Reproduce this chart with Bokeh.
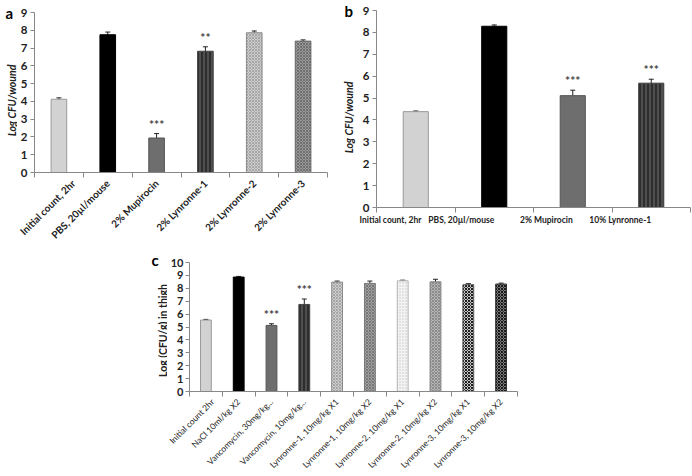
from math import pi
from bokeh.plotting import figure
from bokeh.models import (Range1d, FixedTicker, Whisker, ColumnDataSource,
                          TeeHead, Spacer)
from bokeh.layouts import column, row
from bokeh.embed import file_html
from bokeh.resources import INLINE
from bokeh.core.properties import value

FONT = "Lato"

# ---------------- data ----------------
a_labels = ["Initial count, 2hr", "PBS, 20µl/mouse", "2% Mupirocin",
            "2% Lynronne-1", "2% Lynronne-2", "2% Lynronne-3"]
a_values = [4.12, 7.75, 1.94, 6.82, 7.86, 7.39]
a_errors = [0.08, 0.15, 0.25, 0.25, 0.10, 0.07]
a_stars = ["", "", "***", "**", "", ""]

b_labels = ["Initial count, 2hr", "PBS, 20µl/mouse", "2% Mupirocin", "10% Lynronne-1"]
b_values = [4.38, 8.28, 5.11, 5.68]
b_errors = [0.03, 0.06, 0.25, 0.18]
b_stars = ["", "", "***", "***"]

c_labels = ["Initial count 2hr", "NaCl 10ml/kg X2", "Vancomycin, 30mg/kg...",
            "Vancomycin, 10mg/kg...", "Lynronne-1, 10mg/kg X1", "Lynronne-1, 10mg/kg X2",
            "Lynronne-2, 10mg/kg X1", "Lynronne-2, 10mg/kg X2", "Lynronne-3, 10mg/kg X1",
            "Lynronne-3, 10mg/kg X2"]
c_values = [5.54, 8.87, 5.12, 6.75, 8.48, 8.38, 8.58, 8.50, 8.28, 8.33]
c_errors = [0.05, 0.05, 0.13, 0.42, 0.08, 0.18, 0.05, 0.20, 0.08, 0.07]
c_stars = ["", "", "***", "***", "", "", "", "", "", ""]

# ---------------- bar styles ----------------
S_LIGHT = dict(fill="#d2d2d2", line="#9a9a9a", hatch=" ", hcol="#d2d2d2", hs=4)
S_BLACK = dict(fill="#000000", line="#000000", hatch=" ", hcol="#000000", hs=4)
S_DARK = dict(fill="#6e6e6e", line="#555555", hatch=" ", hcol="#6e6e6e", hs=4)
S_STRIPE = dict(fill="#2e2e2e", line="#444444", hatch="|", hcol="#707070", hs=4)
S_XLIGHT = dict(fill="#cdcdcd", line="#8a8a8a", hatch="x", hcol="#a6a6a6", hs=3)
S_XMID = dict(fill="#9a9a9a", line="#6a6a6a", hatch="x", hcol="#6e6e6e", hs=3)
S_XGRAY = dict(fill="#a0a0a0", line="#777777", hatch="x", hcol="#777777", hs=3)
S_DOTS = dict(fill="#f4f4f4", line="#b0b0b0", hatch=".", hcol="#c4c4c4", hs=3)
S_XAVG = dict(fill="#b4b4b4", line="#808080", hatch="x", hcol="#8c8c8c", hs=3)
S_CHECK = dict(fill="#c8c8c8", line="#555555", hatch="x", hcol="#1e1e1e", hs=3)
S_CHECKD = dict(fill="#7a7a7a", line="#333333", hatch="x", hcol="#1a1a1a", hs=3)

a_styles = [S_LIGHT, S_BLACK, S_DARK, S_STRIPE, S_XLIGHT, S_XMID]
b_styles = [S_LIGHT, S_BLACK, S_DARK, S_STRIPE]
c_styles = [S_LIGHT, S_BLACK, S_DARK, S_STRIPE, S_XLIGHT, S_XGRAY, S_DOTS, S_XAVG,
            S_CHECK, S_CHECKD]


def side(letter, ylabel, ylabel_style, width, height, letter_x, letter_base,
         ylab_x, ylab_center_top):
    """Narrow strip that carries the panel letter and the rotated y-axis title."""
    s = figure(width=width, height=height, output_backend="svg", toolbar_location=None,
               x_range=Range1d(0, width), y_range=Range1d(0, height),
               x_axis_location=None, y_axis_location=None,
               min_border=0, min_border_left=0, min_border_right=0,
               min_border_top=0, min_border_bottom=0)
    s.outline_line_color = None
    s.xgrid.visible = False
    s.ygrid.visible = False
    s.text(x=[letter_x], y=[height - letter_base], text=[letter], text_align="left",
           text_baseline="alphabetic", text_font=value(FONT), text_font_size="15px",
           text_font_style="bold", text_color="#000000")
    s.text(x=[ylab_x], y=[height - ylab_center_top], text=[ylabel], angle=pi / 2,
           text_align="center", text_baseline="middle", text_font=value(FONT),
           text_font_size="10.5px", text_font_style=ylabel_style, text_color="#222222")
    return s


def panel(labels, values, errors, stars, styles, width, height, mb, ymax, bar_w,
          xlab_angle, xlab_size, xlab_style, tick_size, xlab_standoff, ytick_standoff):
    n = len(labels)
    xs = list(range(n))
    src = ColumnDataSource(dict(
        x=xs, top=values, upper=[v + e for v, e in zip(values, errors)],
        lower=[v - e for v, e in zip(values, errors)], stars=stars,
        fill=[s["fill"] for s in styles], line=[s["line"] for s in styles],
        hatch=[s["hatch"] for s in styles], hcol=[s["hcol"] for s in styles],
        hs=[s["hs"] for s in styles]))
    p = figure(width=width, height=height, output_backend="svg",
               toolbar_location=None, x_range=Range1d(-0.5, n - 0.5),
               y_range=Range1d(0, ymax),
               min_border_left=mb[0], min_border_right=mb[1],
               min_border_top=mb[2], min_border_bottom=mb[3])
    p.outline_line_color = None
    p.xgrid.visible = False
    p.ygrid.visible = False

    p.vbar(x="x", top="top", bottom=0, width=bar_w, source=src,
           fill_color="fill", line_color="line", line_width=1,
           hatch_pattern="hatch", hatch_color="hcol", hatch_scale="hs",
           hatch_weight=1)
    w = Whisker(base="x", upper="upper", lower="lower", source=src,
                line_color="#222222", line_width=1,
                upper_head=TeeHead(size=5, line_color="#222222", line_width=1),
                lower_head=TeeHead(size=5, line_color="#222222", line_width=1))
    p.add_layout(w)
    p.text(x="x", y="upper", text="stars", source=src, text_align="center",
           text_baseline="bottom", y_offset=-2, text_font=value(FONT),
           text_font_size="12px", text_font_style="bold", text_color="#444444")

    # x axis: labels at centres, tick marks between categories
    xa = p.xaxis[0]
    xa.ticker = FixedTicker(ticks=xs, minor_ticks=[i - 0.5 for i in range(n + 1)])
    xa.major_label_overrides = {i: lab for i, lab in enumerate(labels)}
    xa.major_tick_out = 0
    xa.major_tick_in = 0
    xa.minor_tick_out = 5
    xa.minor_tick_in = 0
    xa.minor_tick_line_color = "#888888"
    xa.axis_line_color = "#888888"
    xa.major_label_orientation = xlab_angle
    xa.major_label_text_font = FONT
    xa.major_label_text_font_size = xlab_size
    xa.major_label_text_font_style = xlab_style
    xa.major_label_text_color = "#222222"
    xa.major_label_standoff = xlab_standoff

    ya = p.yaxis[0]
    ya.ticker = FixedTicker(ticks=list(range(0, ymax + 1)))
    ya.major_tick_out = 4
    ya.major_tick_in = 0
    ya.minor_tick_line_color = None
    ya.axis_line_color = "#888888"
    ya.major_tick_line_color = "#888888"
    ya.major_label_text_font = FONT
    ya.major_label_text_font_size = tick_size
    ya.major_label_text_font_style = "bold"
    ya.major_label_text_color = "#222222"
    ya.major_label_standoff = ytick_standoff
    return p


ROW1_H = 248
ROW2_H = 228

# panel a: frame page x 31..327, y 12..172
sa = side("a", "Log CFU/wound", "bold italic", 17, ROW1_H, 5, 12, 11, 100)
pa = panel(a_labels, a_values, a_errors, a_stars, a_styles, width=324, height=ROW1_H,
           mb=(14, 14, 12, 76), ymax=9, bar_w=0.32, xlab_angle=pi / 4,
           xlab_size="10px", xlab_style="bold", tick_size="11.5px",
           xlab_standoff=4, ytick_standoff=3)

# panel b: frame page x 373..690, y 10..207
sb = side("b", "Log CFU/wound", "bold italic", 18, ROW1_H, 3, 10, 7, 117)
pb = panel(b_labels, b_values, b_errors, b_stars, b_styles, width=333, height=ROW1_H,
           mb=(14, 2, 10, 41), ymax=9, bar_w=0.32, xlab_angle=0,
           xlab_size="8.5px", xlab_style="bold", tick_size="11.5px",
           xlab_standoff=7, ytick_standoff=3)

# panel c: frame page x 185..517, y 262..392
sc = side("c", "Log (CFU/g) in thigh", "bold", 21, ROW2_H, 5, 11, 16, 82)
pc = panel(c_labels, c_values, c_errors, c_stars, c_styles, width=356, height=ROW2_H,
           mb=(18, 6, 14, 84), ymax=10, bar_w=0.33, xlab_angle=pi / 4,
           xlab_size="8.5px", xlab_style="normal", tick_size="11px",
           xlab_standoff=4, ytick_standoff=2)

# each figure in its own box so that the row does not align their frames
layout = column(row(column(sa), column(pa), column(sb), column(pb)),
                row(Spacer(width=146, height=ROW2_H), column(sc), column(pc)))

open("out.html", "w").write(file_html(layout, INLINE))
